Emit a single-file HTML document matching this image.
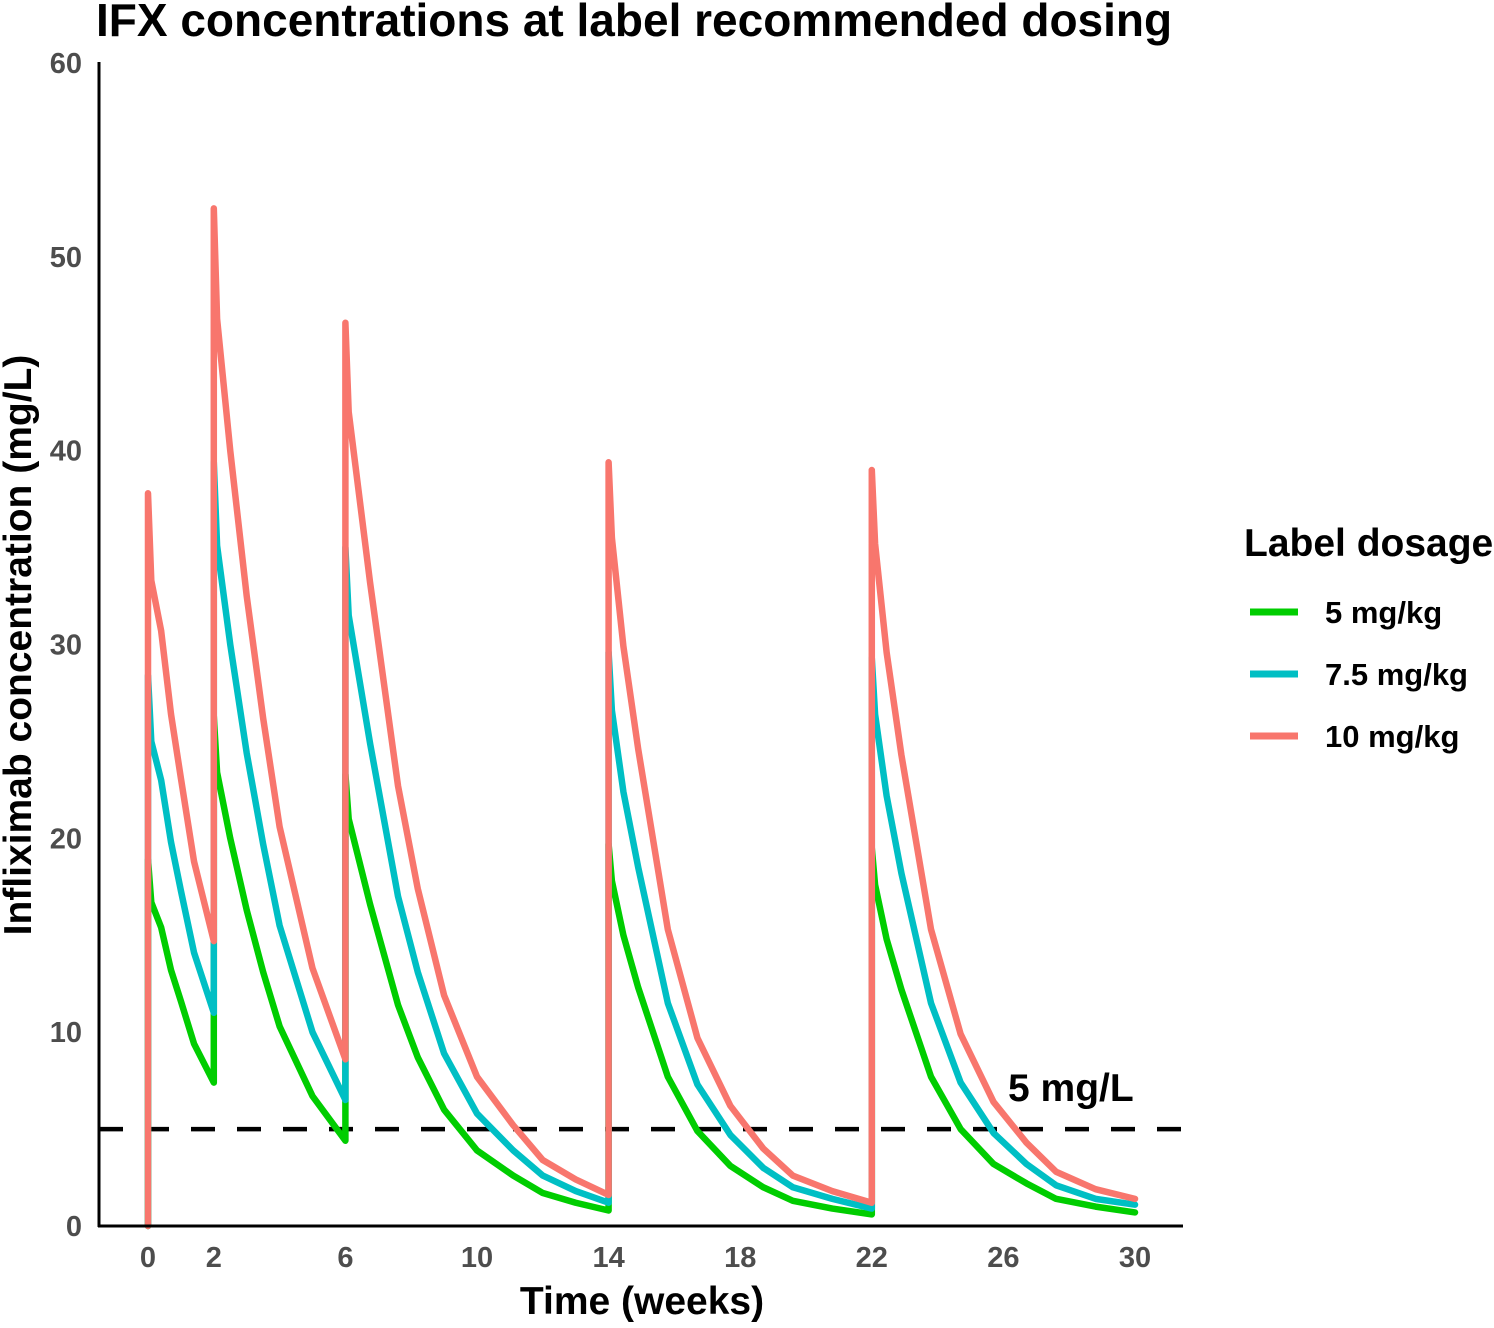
<!DOCTYPE html>
<html><head><meta charset="utf-8"><style>
body{margin:0;background:#fff;}
svg text{font-family:"Liberation Sans",Arial,sans-serif;font-weight:bold;}
</style></head><body>
<svg id="chart" width="1494" height="1323" viewBox="0 0 1494 1323" xmlns="http://www.w3.org/2000/svg">
<text x="96" y="36" font-size="46" fill="#000">IFX concentrations at label recommended dosing</text>
<g id="grid"></g>
<g id="series"></g>
<line x1="98" y1="1226" x2="1183" y2="1226" stroke="#000" stroke-width="3"/>
<line x1="99" y1="62" x2="99" y2="1227" stroke="#000" stroke-width="3"/>
<g id="ticks"></g>
<text x="642" y="1314" font-size="39" text-anchor="middle" fill="#000">Time (weeks)</text>
<text transform="translate(31,645) rotate(-90)" font-size="39" text-anchor="middle" fill="#000">Infliximab concentration (mg/L)</text>
<text x="1008" y="1101" font-size="39" fill="#000">5 mg/L</text>
<g>
<text x="1244" y="556" font-size="39" fill="#000">Label dosage</text>
<line x1="1250" y1="612" x2="1298" y2="612" stroke="#00cd00" stroke-width="7"/>
<text x="1325" y="623" font-size="31" fill="#000">5 mg/kg</text>
<line x1="1250" y1="674" x2="1298" y2="674" stroke="#00bfc4" stroke-width="7"/>
<text x="1325" y="685" font-size="31" fill="#000">7.5 mg/kg</text>
<line x1="1250" y1="736" x2="1298" y2="736" stroke="#f8766d" stroke-width="7"/>
<text x="1325" y="747" font-size="31" fill="#000">10 mg/kg</text>
</g>
</svg>
<script>
const times = [0,0,0.1,0.4,0.7,1,1.4,2, 2,2.1,2.5,3,3.5,4,5,6, 6,6.1,6.75,7.6,8.2,9,10,11.1,12,13,14, 14,14.1,14.45,14.9,15.8,16.7,17.7,18.7,19.6,20.8,22, 22,22.1,22.45,22.9,23.8,24.7,25.7,26.7,27.6,28.8,30];
const dose5 = [0,18.9,16.7,15.4,13.2,11.6,9.4,7.4, 26.3,23.4,20,16.3,13.1,10.3,6.7,4.4, 23.3,21,16.6,11.4,8.7,6,3.9,2.6,1.7,1.2,0.8, 19.7,17.8,15,12.3,7.7,4.9,3.1,2,1.3,0.9,0.6, 19.5,17.6,14.8,12.2,7.7,5,3.2,2.2,1.4,1,0.7];
const dose75 = [0,28.4,25,23,19.8,17.3,14.1,11, 39.4,35.1,30,24.4,19.7,15.5,10,6.5, 35,31.5,24.9,17,13.1,8.9,5.8,3.9,2.6,1.8,1.2, 29.6,26.6,22.4,18.5,11.5,7.3,4.7,3,2,1.4,0.9, 29.3,26.4,22.2,18.2,11.5,7.4,4.8,3.2,2.1,1.4,1.1];
const dose10 = [0,37.8,33.3,30.7,26.4,23.1,18.8,14.7, 52.5,46.8,40,32.5,26.2,20.6,13.3,8.6, 46.6,42,33.2,22.7,17.4,11.9,7.7,5.2,3.4,2.4,1.6, 39.4,35.5,29.9,24.6,15.3,9.7,6.2,4.0,2.6,1.8,1.2, 39.0,35.2,29.6,24.3,15.3,9.9,6.4,4.3,2.8,1.9,1.4];
const xTicks = [0,2,6,10,14,18,22,26,30];
const yTicks = [0,10,20,30,40,50,60];
const threshold = [5];

const NS = "http://www.w3.org/2000/svg";
const xs = t => 148 + t * (1135 - 148) / 30;
const ys = v => 1226 - v * (1226 - 63) / 60;

const ticks = document.getElementById('ticks');
xTicks.forEach(t => {
  const tx = document.createElementNS(NS, 'text');
  
  
  tx.setAttribute('x', xs(t)); tx.setAttribute('y', 1267);
  tx.setAttribute('font-size', '29'); tx.setAttribute('text-anchor', 'middle'); tx.setAttribute('fill', '#4d4d4d');
  tx.textContent = t; ticks.appendChild(tx);
});
yTicks.forEach(v => {
  const tx = document.createElementNS(NS, 'text');
  
  
  tx.setAttribute('x', 82); tx.setAttribute('y', ys(v) + 10);
  tx.setAttribute('font-size', '29'); tx.setAttribute('text-anchor', 'end'); tx.setAttribute('fill', '#4d4d4d');
  tx.textContent = v; ticks.appendChild(tx);
});

const grid = document.getElementById('grid');
threshold.forEach(v => {
  const l = document.createElementNS(NS, 'line');
  
  
  l.setAttribute('x1', 99); l.setAttribute('x2', 1183);
  l.setAttribute('y1', ys(v)); l.setAttribute('y2', ys(v));
  l.setAttribute('stroke', '#000'); l.setAttribute('stroke-width', '4.5');
  l.setAttribute('stroke-dasharray', '24 22');
  grid.appendChild(l);
});

const series = document.getElementById('series');
const defs = [[dose5, '#00cd00', 'line-5-mg-kg'], [dose75, '#00bfc4', 'line-7-5-mg-kg'], [dose10, '#f8766d', 'line-10-mg-kg']];
defs.forEach(([vals, col, name]) => {
  const p = document.createElementNS(NS, 'polyline');
  
  
  p.setAttribute('points', times.map((t, i) => xs(t) + ',' + ys(vals[i])).join(' '));
  p.setAttribute('fill', 'none'); p.setAttribute('stroke', col);
  p.setAttribute('stroke-width', '6.5'); p.setAttribute('stroke-linejoin', 'round'); p.setAttribute('stroke-linecap', 'round');
  series.appendChild(p);
});
</script>
</body></html>
